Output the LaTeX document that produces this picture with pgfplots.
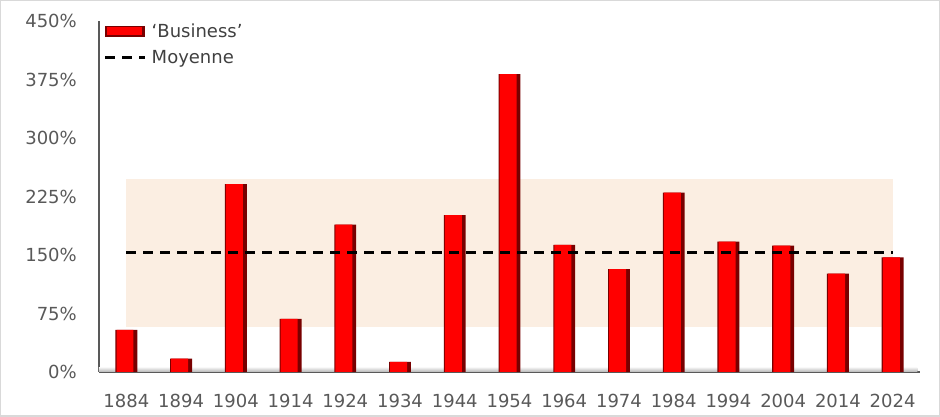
\documentclass[border=0pt]{standalone}
\usepackage{pgfplots}
\pgfplotsset{compat=1.18}
\usepackage{fontspec}
\setmainfont{DejaVu Sans}

\definecolor{band}{RGB}{251,238,226}
\definecolor{txt}{RGB}{89,89,89}
\definecolor{legtxt}{RGB}{64,64,64}
\definecolor{barred}{RGB}{255,0,0}
\definecolor{bardark}{RGB}{120,0,0}

\pgfplotsset{
  barleg/.style={legend image code/.code={%
      \fill[bardark] (0pt,-5pt) rectangle (40pt,6pt);
      \fill[barred] (1.5pt,-3.5pt) rectangle (37pt,4.5pt);}},
  lineleg/.style={legend image code/.code={\draw[##1] (0pt,0pt) -- (40pt,0pt);}},
}

\begin{document}
\begin{tikzpicture}
\useasboundingbox (-99pt,-45pt) rectangle (841pt,372pt);
\draw[gray!30, line width=1.5pt] (-98.25pt,-44.25pt) rectangle (840.25pt,371.25pt);
\begin{axis}[
    scale only axis, width=821pt, height=351pt,
    xmin=-0.5, xmax=14.5, ymin=0, ymax=450,
    axis lines*=left,
    axis line style={draw=black!65, line width=1.2pt},
    major tick length=0pt,
    xtick={0,...,14},
    xticklabels={1884,1894,1904,1914,1924,1934,1944,1954,1964,1974,1984,1994,2004,2014,2024},
    ytick={0,75,...,450},
    yticklabel={\pgfmathprintnumber{\tick}\%},
    tick label style={font=\fontsize{18}{21}\selectfont, text=txt, inner sep=0pt},
    xticklabel style={anchor=north, yshift=-22pt},
    yticklabel style={anchor=east, xshift=-22pt},
    /pgf/number format/assume math mode=true,
    legend style={at={(0.006,0.997)}, anchor=north west, draw=none, fill=none,
        inner sep=0pt, row sep=7pt, column sep=3pt,
        font=\fontsize{18}{21}\selectfont, text=legtxt},
    legend cell align=left,
]
% +/- band round the mean
\addplot[forget plot, draw=none, fill=band]
    coordinates {(0,58) (14,58) (14,248) (0,248)} -- cycle;
% floor of the chart
\addplot[forget plot, draw=none, top color=gray!8, bottom color=gray!60]
    coordinates {(-0.5,0) (14.45,0) (14.45,6) (-0.5,6)} -- cycle;

% dark body of the bars (edges)
\addplot[ybar, bar width=0.4, fill=bardark, draw=none, barleg]
    coordinates {
    (0,54) (1,17) (2,241) (3,68) (4,189) (5,13) (6,201) (7,382)
    (8,163) (9,132) (10,230) (11,167) (12,162) (13,126) (14,147)
    };
\addlegendentry{‘Business’}
% bright face of the bars
\addplot[forget plot, ybar, bar width=0.31, bar shift=-0.025, fill=barred, draw=none]
    coordinates {
    (0,54) (1,17) (2,241) (3,68) (4,189) (5,13) (6,201) (7,382)
    (8,163) (9,132) (10,230) (11,167) (12,162) (13,126) (14,147)
    };

\addplot[black, line width=2.6pt, dash pattern=on 10pt off 7pt, lineleg]
    coordinates {(0,153) (14,153)};
\addlegendentry{Moyenne}
\end{axis}
\end{tikzpicture}
\end{document}
